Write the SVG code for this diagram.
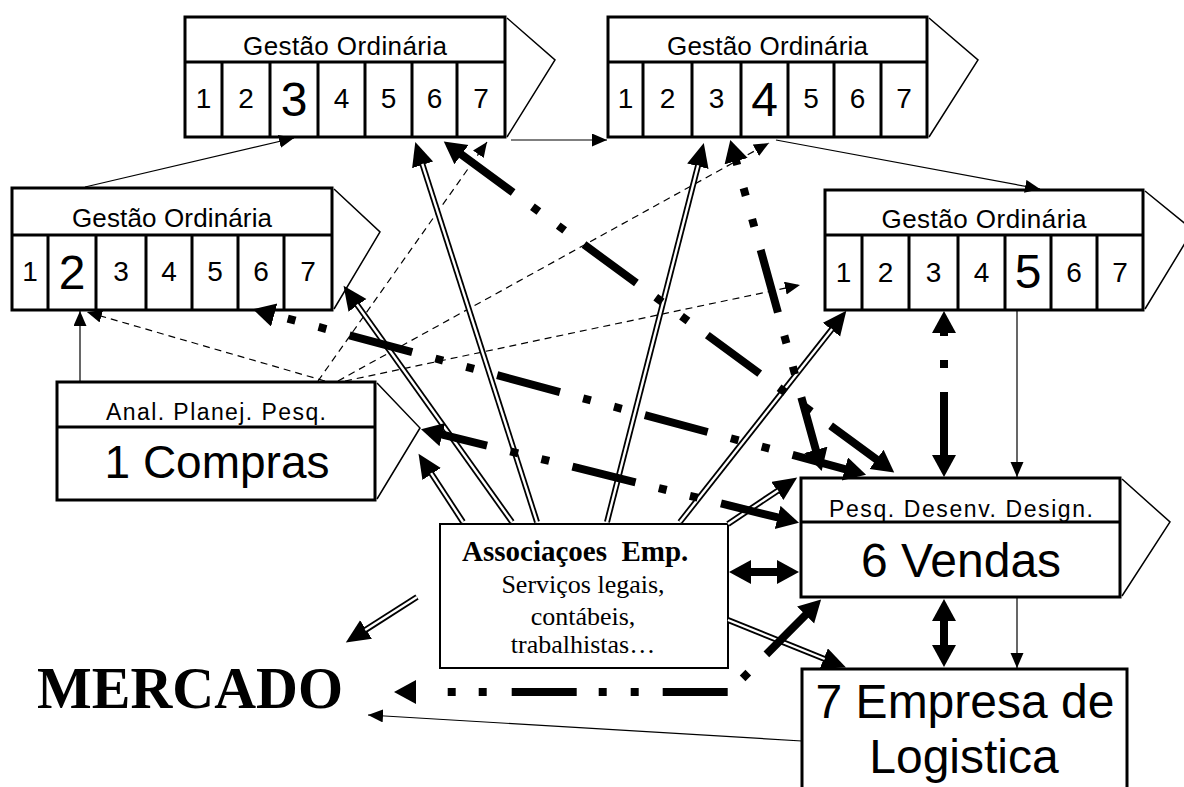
<svg xmlns="http://www.w3.org/2000/svg" width="1184" height="787" viewBox="0 0 1184 787">
  <style>
    .box { fill: #fff; stroke: #000; stroke-width: 3; }
    .abox { fill: #fff; stroke: #000; stroke-width: 2; }
    .tip { fill: none; stroke: #000; stroke-width: 1.5; }
    .div { stroke: #000; stroke-width: 3; }
    .sans { font-family: "Liberation Sans", Arial, sans-serif; fill: #000; text-anchor: middle; }
    .hdr { font-size: 26px; }
    .sub { font-size: 23px; }
    .num { font-size: 28px; }
    .big { font-size: 48px; }
    .serif { font-family: "Liberation Serif", "Times New Roman", serif; fill: #000; }
    .thin { fill: none; stroke: #000; stroke-width: 1.2; marker-end: url(#aThin); }
    .dash { stroke-dasharray: 7 5; }
    .dblO { fill: none; stroke: #000; stroke-width: 6; marker-end: url(#aDbl); }
    .dblI { fill: none; stroke: #fff; stroke-width: 2.4; }
    .thk { fill: none; stroke: #000; stroke-width: 8; marker-start: url(#aThk); marker-end: url(#aThk); }
    .dd { stroke-dasharray: 65 24 8 24 8 24; }
  </style>
  <defs>
    <marker id="aThin" markerUnits="userSpaceOnUse" markerWidth="16" markerHeight="14" refX="15" refY="6.5" orient="auto">
      <path d="M0,0 L15,6.5 L0,13 z" fill="#000"/>
    </marker>
    <marker id="aDbl" markerUnits="userSpaceOnUse" markerWidth="26" markerHeight="24" refX="1" refY="11" orient="auto">
      <path d="M0,0 L24,11 L0,22 z" fill="#000"/>
    </marker>
    <marker id="aThk" markerUnits="userSpaceOnUse" markerWidth="24" markerHeight="26" refX="1" refY="12" orient="auto-start-reverse">
      <path d="M0,0 L22,12 L0,24 z" fill="#000"/>
    </marker>
  </defs>

  <rect width="1184" height="787" fill="#fff"/>

  <!-- Gestão Ordinária, stage 3 -->
  <g id="node-g3">
    <polyline class="tip" points="507,18 555,60 507,137"/>
    <rect class="box" x="185" y="17" width="320" height="120"/>
    <line class="div" x1="185" y1="62" x2="505" y2="62"/>
    <path class="div" d="M222,62V137M270,62V137M318,62V137M365,62V137M412,62V137M457,62V137"/>
    <text class="sans hdr" x="345" y="55" textLength="204" lengthAdjust="spacing">Gestão Ordinária</text>
    <text class="sans num" x="203.5" y="108">1</text>
    <text class="sans num" x="246" y="108">2</text>
    <text class="sans big" x="294" y="116">3</text>
    <text class="sans num" x="341.5" y="108">4</text>
    <text class="sans num" x="388.5" y="108">5</text>
    <text class="sans num" x="434.5" y="108">6</text>
    <text class="sans num" x="481" y="108">7</text>
  </g>

  <!-- Gestão Ordinária, stage 4 -->
  <g id="node-g4">
    <polyline class="tip" points="929,18 978,60 929,137"/>
    <rect class="box" x="608" y="17" width="319" height="120"/>
    <line class="div" x1="608" y1="62" x2="927" y2="62"/>
    <path class="div" d="M643,62V137M692,62V137M741,62V137M788,62V137M834,62V137M881,62V137"/>
    <text class="sans hdr" x="767.5" y="55" textLength="201" lengthAdjust="spacing">Gestão Ordinária</text>
    <text class="sans num" x="625.5" y="108">1</text>
    <text class="sans num" x="667.5" y="108">2</text>
    <text class="sans num" x="716.5" y="108">3</text>
    <text class="sans big" x="764.5" y="116">4</text>
    <text class="sans num" x="811" y="108">5</text>
    <text class="sans num" x="857.5" y="108">6</text>
    <text class="sans num" x="904" y="108">7</text>
  </g>

  <!-- Gestão Ordinária, stage 2 -->
  <g id="node-g2">
    <polyline class="tip" points="334,189 380,232 334,309"/>
    <rect class="box" x="12" y="188" width="320" height="122"/>
    <line class="div" x1="12" y1="235" x2="332" y2="235"/>
    <path class="div" d="M48,235V310M96,235V310M146,235V310M192,235V310M238,235V310M284,235V310"/>
    <text class="sans hdr" x="172" y="227" textLength="200" lengthAdjust="spacing">Gestão Ordinária</text>
    <text class="sans num" x="30" y="281">1</text>
    <text class="sans big" x="72" y="289">2</text>
    <text class="sans num" x="121" y="281">3</text>
    <text class="sans num" x="169" y="281">4</text>
    <text class="sans num" x="215" y="281">5</text>
    <text class="sans num" x="261" y="281">6</text>
    <text class="sans num" x="308" y="281">7</text>
  </g>

  <!-- Gestão Ordinária, stage 5 -->
  <g id="node-g5">
    <polyline class="tip" points="1145,191 1193,230 1145,309"/>
    <rect class="box" x="825" y="190" width="318" height="120"/>
    <line class="div" x1="825" y1="235" x2="1143" y2="235"/>
    <path class="div" d="M862,235V310M909,235V310M958,235V310M1005,235V310M1051,235V310M1097,235V310"/>
    <text class="sans hdr" x="984" y="228" textLength="205" lengthAdjust="spacing">Gestão Ordinária</text>
    <text class="sans num" x="843.5" y="282">1</text>
    <text class="sans num" x="885.5" y="282">2</text>
    <text class="sans num" x="933.5" y="282">3</text>
    <text class="sans num" x="981.5" y="282">4</text>
    <text class="sans big" x="1028" y="288">5</text>
    <text class="sans num" x="1074" y="282">6</text>
    <text class="sans num" x="1120" y="282">7</text>
  </g>

  <!-- 1 Compras -->
  <g id="node-compras">
    <polyline class="tip" points="377,383 420,428 377,499"/>
    <rect class="box" x="57" y="382" width="318" height="118"/>
    <line class="div" x1="57" y1="427" x2="375" y2="427"/>
    <text class="sans sub" x="216" y="420" textLength="220" lengthAdjust="spacing">Anal. Planej. Pesq.</text>
    <text class="sans" x="217" y="478" font-size="46">1 Compras</text>
  </g>

  <!-- 6 Vendas -->
  <g id="node-vendas">
    <polyline class="tip" points="1122,479 1170,522 1122,596"/>
    <rect class="box" x="801" y="478" width="319" height="119"/>
    <line class="div" x1="801" y1="522" x2="1120" y2="522"/>
    <text class="sans sub" x="961" y="517" textLength="264" lengthAdjust="spacing">Pesq. Desenv. Design.</text>
    <text class="sans" x="961" y="577" font-size="48">6 Vendas</text>
  </g>

  <!-- 7 Empresa de Logistica -->
  <g id="node-logistica">
    <rect class="box" x="802" y="669" width="325" height="140"/>
    <text class="sans" x="965" y="718" font-size="48">7 Empresa de</text>
    <text class="sans" x="964" y="773" font-size="48">Logistica</text>
  </g>

  <!-- Associaçoes Emp. -->
  <g id="node-assoc">
    <rect class="abox" x="440" y="524" width="288" height="144"/>
    <text class="serif" x="462" y="561" font-size="29" font-weight="bold" xml:space="preserve">Associaçoes  Emp.</text>
    <text class="serif" x="583" y="593" font-size="26" text-anchor="middle">Serviços legais,</text>
    <text class="serif" x="583" y="625" font-size="26" text-anchor="middle">contábeis,</text>
    <text class="serif" x="583" y="653" font-size="26" text-anchor="middle">trabalhistas…</text>
  </g>

  <!-- MERCADO -->
  <g id="node-mercado">
    <text class="serif" x="37" y="708" font-size="59" font-weight="bold" textLength="306" lengthAdjust="spacingAndGlyphs">MERCADO</text>
  </g>

  <g id="connectors">
    <!-- thin solid arrows -->
    <path class="thin" d="M85,187 L294,138"/>
    <path class="thin" d="M511,140 L607,140"/>
    <path class="thin" d="M776,140 L1040,189"/>
    <path class="thin" d="M80,382 L80,311"/>
    <path class="thin" d="M1017,310 L1017,477"/>
    <path class="thin" d="M1017,597 L1017,668"/>
    <path class="thin" d="M802,741 L368,715"/>

    <!-- thin dashed arrows from Compras -->
    <path class="thin dash" d="M325,381 L87,312"/>
    <path class="thin dash" d="M318,381 L487,142"/>
    <path class="thin dash" d="M338,381 L769,143"/>
    <path class="thin dash" d="M345,381 L800,285"/>

    <!-- double-line arrows from Associaçoes -->
    <path class="dblO" d="M463,522 L431.1,473.1"/>
    <path class="dblI" d="M463,522 L431.1,473.1"/>
    <path class="dblO" d="M512,522 L356.9,304.5"/>
    <path class="dblI" d="M512,522 L356.9,304.5"/>
    <path class="dblO" d="M537,522 L422.3,163.9"/>
    <path class="dblI" d="M537,522 L422.3,163.9"/>
    <path class="dblO" d="M607,522 L698.1,165.3"/>
    <path class="dblI" d="M607,522 L698.1,165.3"/>
    <path class="dblO" d="M680,522 L832.1,328.9"/>
    <path class="dblI" d="M680,522 L832.1,328.9"/>
    <path class="dblO" d="M728,524 L778.1,490.4"/>
    <path class="dblI" d="M728,524 L778.1,490.4"/>
    <path class="dblO" d="M728,620 L824.7,659"/>
    <path class="dblI" d="M728,620 L824.7,659"/>
    <path class="dblO" d="M417,597 L365.2,630.1"/>
    <path class="dblI" d="M417,597 L365.2,630.1"/>

    <!-- thick dash-dot two-way arrows -->
    <path class="thk dd" d="M273.2,314.7 L845.8,469.3" stroke-dashoffset="74"/>
    <path class="thk dd" d="M460.7,154 L877.3,460" stroke-dashoffset="0"/>
    <path class="thk dd" d="M735.9,160.2 L816.1,450.8" stroke-dashoffset="60"/>
    <path class="thk dd" d="M441.4,434.3 L778.6,517.7" stroke-dashoffset="18"/>
    <path class="thk dd" d="M944,332 L944,456" stroke-dashoffset="93"/>
    <path class="thk" d="M806.3,614.3 L729,692 L415,692" stroke-dasharray="56.6 25.7 8 20.6 65 24 8 24 8 22 65 25 8 23 8 40"/>

    <!-- thick solid two-way arrows -->
    <path class="thk" d="M750,572 L778,572"/>
    <path class="thk" d="M944,620 L944,646" stroke-width="10"/>
  </g>
</svg>
